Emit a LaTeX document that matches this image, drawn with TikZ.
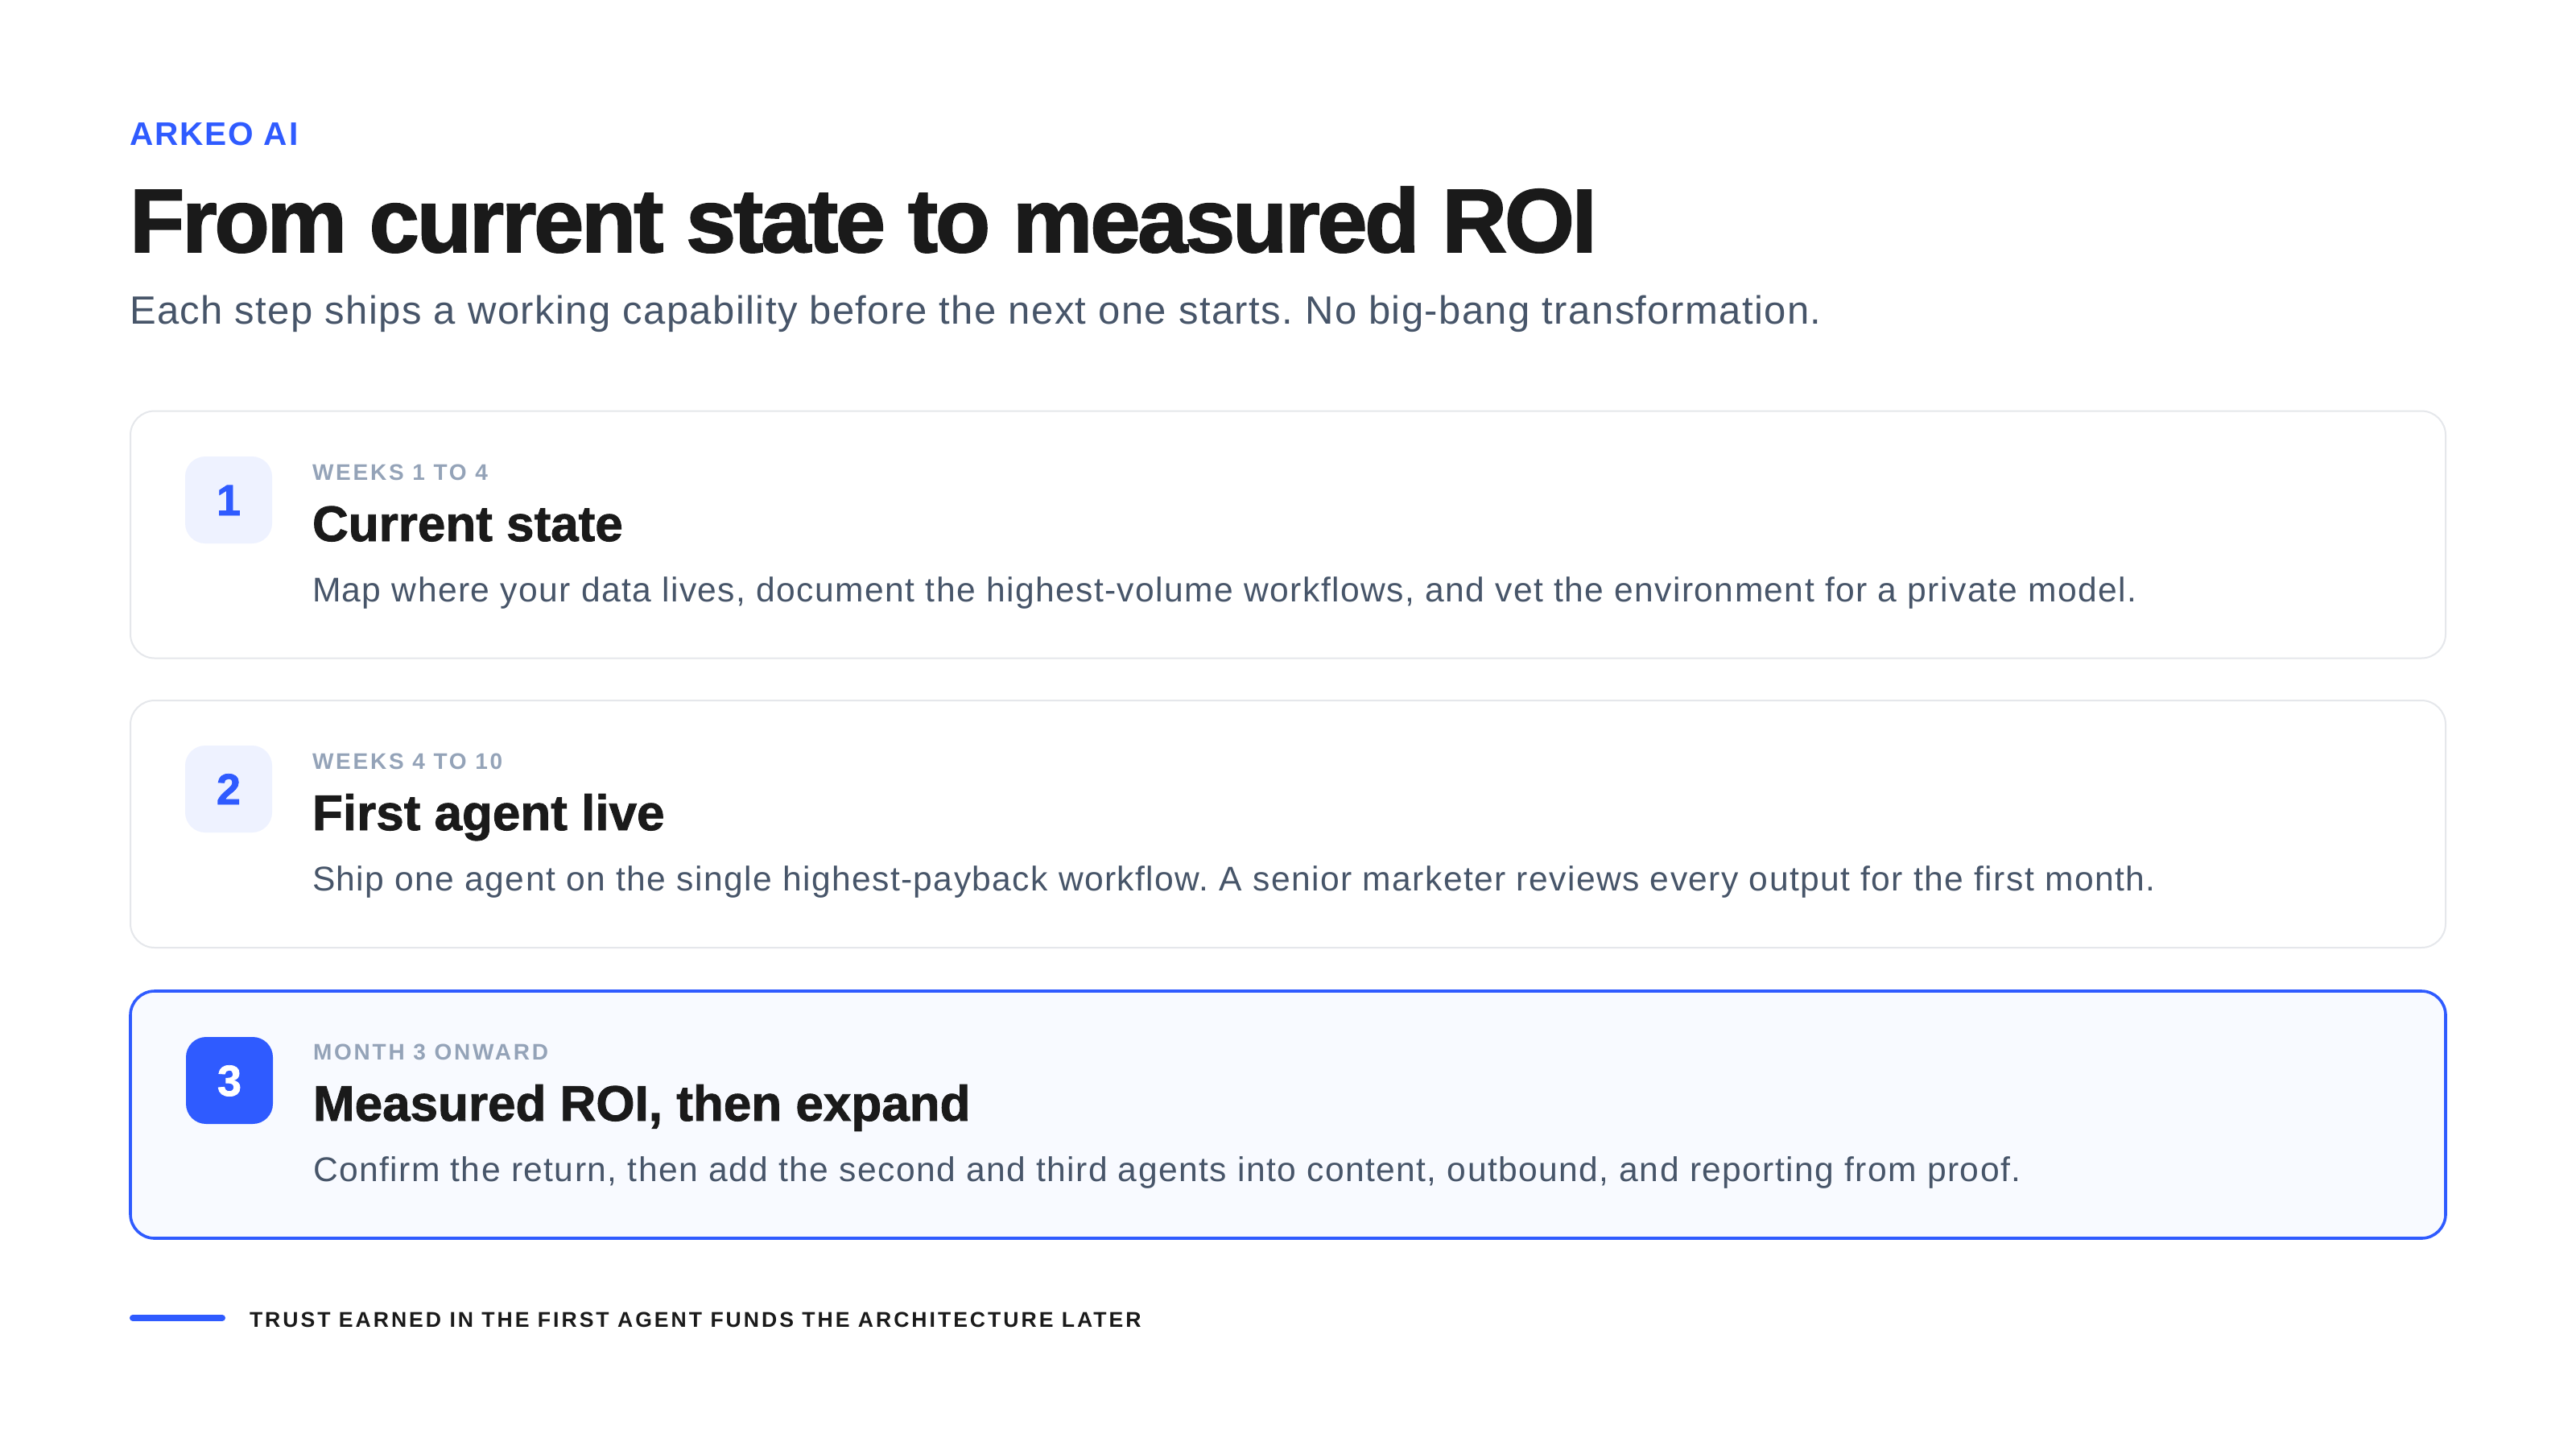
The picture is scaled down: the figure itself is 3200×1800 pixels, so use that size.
\documentclass[tikz,border=0pt]{standalone}
\usepackage{fontspec}
\setmainfont{Liberation Sans}
\frenchspacing
\newfontfamily\titlefont[LetterSpace=-3.0,BoldFeatures={FakeBold=1.6}]{Liberation Sans}
\newfontfamily\headfont[LetterSpace=0,BoldFeatures={FakeBold=1.4}]{Liberation Sans}
\newfontfamily\spacedfont[LetterSpace=10]{Liberation Sans}
\newfontfamily\footfont[LetterSpace=11.2]{Liberation Sans}
\newfontfamily\brandfont[LetterSpace=4.5]{Liberation Sans}
\newfontfamily\bodyfont[LetterSpace=2.9]{Liberation Sans}
\newfontfamily\descfont[LetterSpace=3.3]{Liberation Sans}
\definecolor{brandblue}{HTML}{2F5BFF}
\definecolor{inkblack}{HTML}{1A1A1A}
\definecolor{slate}{HTML}{475569}
\definecolor{labelgray}{HTML}{94A3B8}
\definecolor{cardborder}{HTML}{E5E7EB}
\definecolor{badgefill}{HTML}{EEF2FF}
\definecolor{activefill}{HTML}{F8FAFF}
\tikzset{
  txt/.style={anchor=base west, inner sep=0pt, outer sep=0pt},
  card/.style={draw=cardborder, line width=1pt, fill=white, rounded corners=15pt,
    minimum width=1438pt, minimum height=153.5pt, inner sep=0pt},
  activecard/.style={card, draw=brandblue, line width=1.8pt, fill=activefill},
  badge/.style={fill=badgefill, rounded corners=12.5pt, minimum width=54pt, minimum height=54pt, inner sep=0pt},
  activebadge/.style={badge, fill=brandblue},
  numtxt/.style={anchor=base, inner sep=0pt, font=\headfont\fontsize{27}{30}\selectfont\bfseries, text=brandblue},
  steplabel/.style={txt, font=\spacedfont\fontsize{14}{16}\selectfont\bfseries, text=labelgray},
  steptitle/.style={txt, font=\headfont\fontsize{31}{34}\selectfont\bfseries, text=inkblack},
  stepdesc/.style={txt, font=\descfont\fontsize{21.3}{24}\selectfont, text=slate},
}
\begin{document}
\begin{tikzpicture}[x=0.5pt,y=-0.5pt]
\useasboundingbox[fill=white] (0,0) rectangle (3200,1800);
% header
\node[txt, font=\brandfont\fontsize{20.3}{22}\selectfont\bfseries, text=brandblue] (brand) at (161,180) {ARKEO AI};
\node[txt, font=\titlefont\fontsize{56}{60}\selectfont\bfseries, text=inkblack] (title) at (161,313) {From current state to measured ROI};
\node[txt, font=\bodyfont\fontsize{24.5}{28}\selectfont, text=slate] (subtitle) at (161,402) {Each step ships a working capability before the next one starts. No big-bang transformation.};
% card 1
\node[card] (c1) at (1600,664) {};
\node[badge] (b1) at (284,621) {};
\node[numtxt] (n1) at (284,640) {1};
\node[steplabel] (l1) at (388,596) {WEEKS 1 TO 4};
\node[steptitle] (t1) at (388,672) {Current state};
\node[stepdesc] (d1) at (388,747) {Map where your data lives, document the highest-volume workflows, and vet the environment for a private model.};
% card 2
\node[card] (c2) at (1600,1023.5) {};
\node[badge] (b2) at (284,980) {};
\node[numtxt] (n2) at (284,999) {2};
\node[steplabel] (l2) at (388,955) {WEEKS 4 TO 10};
\node[steptitle] (t2) at (388,1031) {First agent live};
\node[stepdesc] (d2) at (388,1106) {Ship one agent on the single highest-payback workflow. A senior marketer reviews every output for the first month.};
% card 3
\node[activecard] (c3) at (1600,1384.5) {};
\node[activebadge] (b3) at (285,1342) {};
\node[numtxt, text=white] (n3) at (285,1361) {3};
\node[steplabel] (l3) at (389,1316) {MONTH 3 ONWARD};
\node[steptitle] (t3) at (389,1392) {Measured ROI, then expand};
\node[stepdesc] (d3) at (389,1467) {Confirm the return, then add the second and third agents into content, outbound, and reporting from proof.};
% footer
\coordinate (fa) at (165,1637);
\coordinate (fb) at (276,1637);
\draw[brandblue, line width=4pt, line cap=round] (fa) -- (fb);
\node[txt, font=\footfont\fontsize{13.3}{15}\selectfont\bfseries, text=inkblack] (foot) at (310,1648) {TRUST EARNED IN THE FIRST AGENT FUNDS THE ARCHITECTURE LATER};
\end{tikzpicture}
\end{document}
